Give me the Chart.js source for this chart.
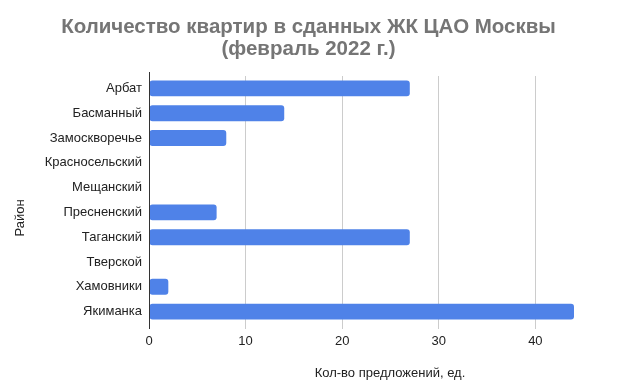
<!DOCTYPE html>
<html>
<head>
<meta charset="utf-8">
<script src="https://cdn.jsdelivr.net/npm/chart.js@4.4.0/dist/chart.umd.min.js"></script>
<style>
  html, body { margin: 0; padding: 0; background: #fff; }
  #box { width: 617px; height: 388px; }
</style>
</head>
<body>
<div id="box"><canvas id="main-chart" width="617" height="388"></canvas></div>
<script>
// районы ЦАО и число квартир
var districts = ['Арбат', 'Басманный', 'Замоскворечье', 'Красносельский', 'Мещанский',
	'Пресненский', 'Таганский', 'Тверской', 'Хамовники', 'Якиманка'];
var flats = [27, 14, 8, 0, 0, 7, 27, 0, 2, 44];
var xTicks = [0, 10, 20, 30, 40];

var titleLines = ['Количество квартир в сданных ЖК ЦАО Москвы', '(февраль 2022 г.)'];
var xTitle = 'Кол-во предложений, ед.';
var yTitle = 'Район';

Chart.defaults.font.family = "'Liberation Sans', Arial, sans-serif";
Chart.defaults.color = '#222';

// подписи осей рисуем сами, они сдвинуты относительно центра области
var axisTitles = {
	id: 'axisTitles',
	afterDraw: function (chart) {
		var c = chart.ctx, a = chart.chartArea;
		c.save();
		// ось слева чуть длиннее области графика
		c.strokeStyle = '#333';
		c.lineWidth = 1;
		c.beginPath();
		c.moveTo(a.left + 0.5, a.top - 4);
		c.lineTo(a.left + 0.5, a.bottom + 5);
		c.stroke();
		c.fillStyle = '#222';
		c.font = "13px 'Liberation Sans', Arial, sans-serif";
		c.textAlign = 'center';
		c.textBaseline = 'middle';
		c.fillText(xTitle, (a.left + chart.width) / 2 + 7, chart.height - 15);
		c.translate(20, (a.top + a.bottom) / 2 + 18);
		c.rotate(-Math.PI / 2);
		c.fillText(yTitle, 0, 0);
		c.restore();
	}
};

function make() {
	var ctx = document.getElementById('main-chart');
	return new Chart(ctx, {
		type: 'bar',
		data: {
			labels: districts,
			datasets: [{
				data: flats,
				backgroundColor: '#4f82e8',
				borderWidth: 0,
				borderRadius: 3,
				borderSkipped: false,
				categoryPercentage: 0.64,
				barPercentage: 1
			}]
		},
		plugins: [axisTitles],
		options: {
			indexAxis: 'y',
			responsive: false,
			animation: false,
			layout: { padding: 0 },
			plugins: {
				legend: { display: false },
				tooltip: { enabled: false },
				title: {
					display: true,
					text: titleLines,
					color: '#757575',
					font: { size: 20.5, weight: 'bold', lineHeight: '22px' },
					padding: { top: 16, bottom: 16 }
				}
			},
			scales: {
				x: {
					min: 0,
					max: 44,
					afterBuildTicks: function (scale) {
						scale.ticks = xTicks.map(function (v) { return { value: v }; });
					},
					afterFit: function (scale) { scale.height = 64; },
					grid: { color: '#cccccc', drawTicks: true, tickLength: 5 },
					border: { display: false },
					ticks: { padding: 5, font: { size: 13 } }
				},
				y: {
					afterFit: function (scale) { scale.width = 149; },
					grid: { display: false, drawTicks: false },
					border: { display: false },
					ticks: { padding: 7, font: { size: 13 } }
				},
				// пустая ось справа - отступ, чтобы заголовок остался по центру
				yr: {
					type: 'linear',
					position: 'right',
					afterFit: function (scale) { scale.width = 43; },
					grid: { display: false, drawTicks: false },
					border: { display: false },
					ticks: { display: false }
				}
			}
		}
	});
}

make();
</script>
</body>
</html>
